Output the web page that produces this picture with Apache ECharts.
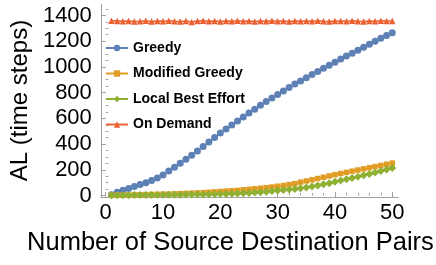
<!DOCTYPE html>
<html><head><meta charset="utf-8">
<script src="https://cdn.jsdelivr.net/npm/echarts@6/dist/echarts.min.js"></script>
<style>html,body{margin:0;padding:0;background:#fff}#c{width:436px;height:265px}</style>
</head><body><div id="c"></div>
<script>
const xValues = [1,2,3,4,5,6,7,8,9,10,11,12,13,14,15,16,17,18,19,20,21,22,23,24,25,26,27,28,29,30,31,32,33,34,35,36,37,38,39,40,41,42,43,44,45,46,47,48,49,50];
const greedy = [5,25,40,55,70,85,100,117,137,160,190,220,250,281,313,346,380,415,450,485,518,549,580,611,641,671,701,730,758,786,813,840,866,891,916,941,965,989,1013,1037,1061,1084,1107,1130,1153,1176,1199,1222,1244,1266];
const modifiedGreedy = [2,3,3,4,5,6,7,8,9,10,11,13,14,16,18,20,22,25,28,31,34,37,40,44,48,52,56,61,66,72,78,85,92,104,113,122,132,142,152,162,171,180,189,198,207,216,225,234,243,252];
const localBestEffort = [1,1,2,2,3,3,3,4,4,5,5,6,6,7,7,8,8,9,10,11,12,14,16,18,20,23,26,30,34,38,42,46,51,57,63,70,78,87,96,106,116,126,136,146,157,168,179,191,203,214];
const onDemand = [1358,1356,1354,1357,1353,1355,1358,1352,1356,1354,1359,1355,1353,1357,1350,1356,1358,1354,1356,1353,1357,1355,1359,1354,1356,1352,1357,1355,1358,1354,1356,1353,1357,1355,1356,1354,1358,1355,1353,1357,1356,1354,1358,1355,1353,1357,1355,1358,1356,1357];
const seriesNames = ['Greedy','Modified Greedy','Local Best Effort','On Demand'];
const xMajorTicks = [0,10,20,30,40,50];
const xMinorTicks = [2,4,6,8,12,14,16,18,22,24,26,28,32,34,36,38,42,44,46,48];
const yMajorTicks = [0,200,400,600,800,1000,1200,1400];
const yMinorTicks = [50,100,150,250,300,350,450,500,550,650,700,750,850,900,950,1050,1100,1150,1250,1300,1350,1450];

const colors = ['#5E81B5','#E19C24','#8FB032','#EB6235'];
const symbols = ['circle','rect','diamond','triangle'];
const symbolSizes = [7,5.5,8,6.5];
const allData = [greedy, modifiedGreedy, localBestEffort, onDemand];
const font = 'Liberation Sans, Arial, sans-serif';
const X_MIN = -0.85, X_MAX = 51, Y_MIN = -11.7, Y_MAX = 1489;
const axisGray = '#a0a0a0';

const chart = echarts.init(document.getElementById('c'), null, {renderer:'canvas'});
chart.setOption({
  animation: false,
  backgroundColor: '#fff',
  grid: {left: 92, right: 38, top: 4, bottom: 68, containLabel: false},
  legend: {
    orient: 'vertical', left: 100, top: 36, itemWidth: 22, itemHeight: 8, itemGap: 11.5,
    textStyle: {fontFamily: font, fontWeight: 'bold', fontSize: 14, color: '#000'},
    data: seriesNames
  },
  xAxis: [{
    type: 'value', min: X_MIN, max: X_MAX, position: 'bottom',
    name: 'Number of Source Destination Pairs', nameLocation: 'middle', nameGap: 33,
    nameTextStyle: {fontFamily: font, fontSize: 25.5, color: '#000', padding: [0, 38, 0, 0]},
    axisLine: {show: true, onZero: false, lineStyle: {color: axisGray, width: 1}},
    axisTick: {show: true, inside: true, length: 5, customValues: xMajorTicks, lineStyle: {color: axisGray}},
    axisLabel: {show: true, customValues: xMajorTicks, margin: 5, fontFamily: font, fontSize: 22, color: '#000'},
    splitLine: {show: false}
  }, {
    type: 'value', min: X_MIN, max: X_MAX, position: 'bottom', offset: 0,
    axisLine: {show: false},
    axisTick: {show: true, inside: true, length: 2.5, customValues: xMinorTicks, lineStyle: {color: axisGray}},
    axisLabel: {show: false},
    splitLine: {show: false}
  }],
  yAxis: [{
    type: 'value', min: Y_MIN, max: Y_MAX, position: 'left',
    name: 'AL (time steps)', nameLocation: 'middle', nameGap: 66,
    nameTextStyle: {fontFamily: font, fontSize: 24, color: '#000'},
    axisLine: {show: true, onZero: false, lineStyle: {color: axisGray, width: 1}},
    axisTick: {show: true, inside: true, length: 5, customValues: yMajorTicks, lineStyle: {color: axisGray}},
    axisLabel: {show: true, customValues: yMajorTicks, margin: 9, fontFamily: font, fontSize: 22, color: '#000',
      formatter: v => String(v)},
    splitLine: {show: false}
  }, {
    type: 'value', min: Y_MIN, max: Y_MAX, position: 'left', offset: 0,
    axisLine: {show: false},
    axisTick: {show: true, inside: true, length: 2.5, customValues: yMinorTicks, lineStyle: {color: axisGray}},
    axisLabel: {show: false},
    splitLine: {show: false}
  }],
  series: seriesNames.map((name, i) => ({
    name: name, type: 'line', xAxisIndex: 0, yAxisIndex: 0,
    data: xValues.map((x, j) => [x, allData[i][j]]),
    symbol: symbols[i], symbolSize: symbolSizes[i], showSymbol: true,
    lineStyle: {color: colors[i], width: 1.5},
    itemStyle: {color: colors[i]},
    z: 2 + i
  }))
});
</script></body></html>
